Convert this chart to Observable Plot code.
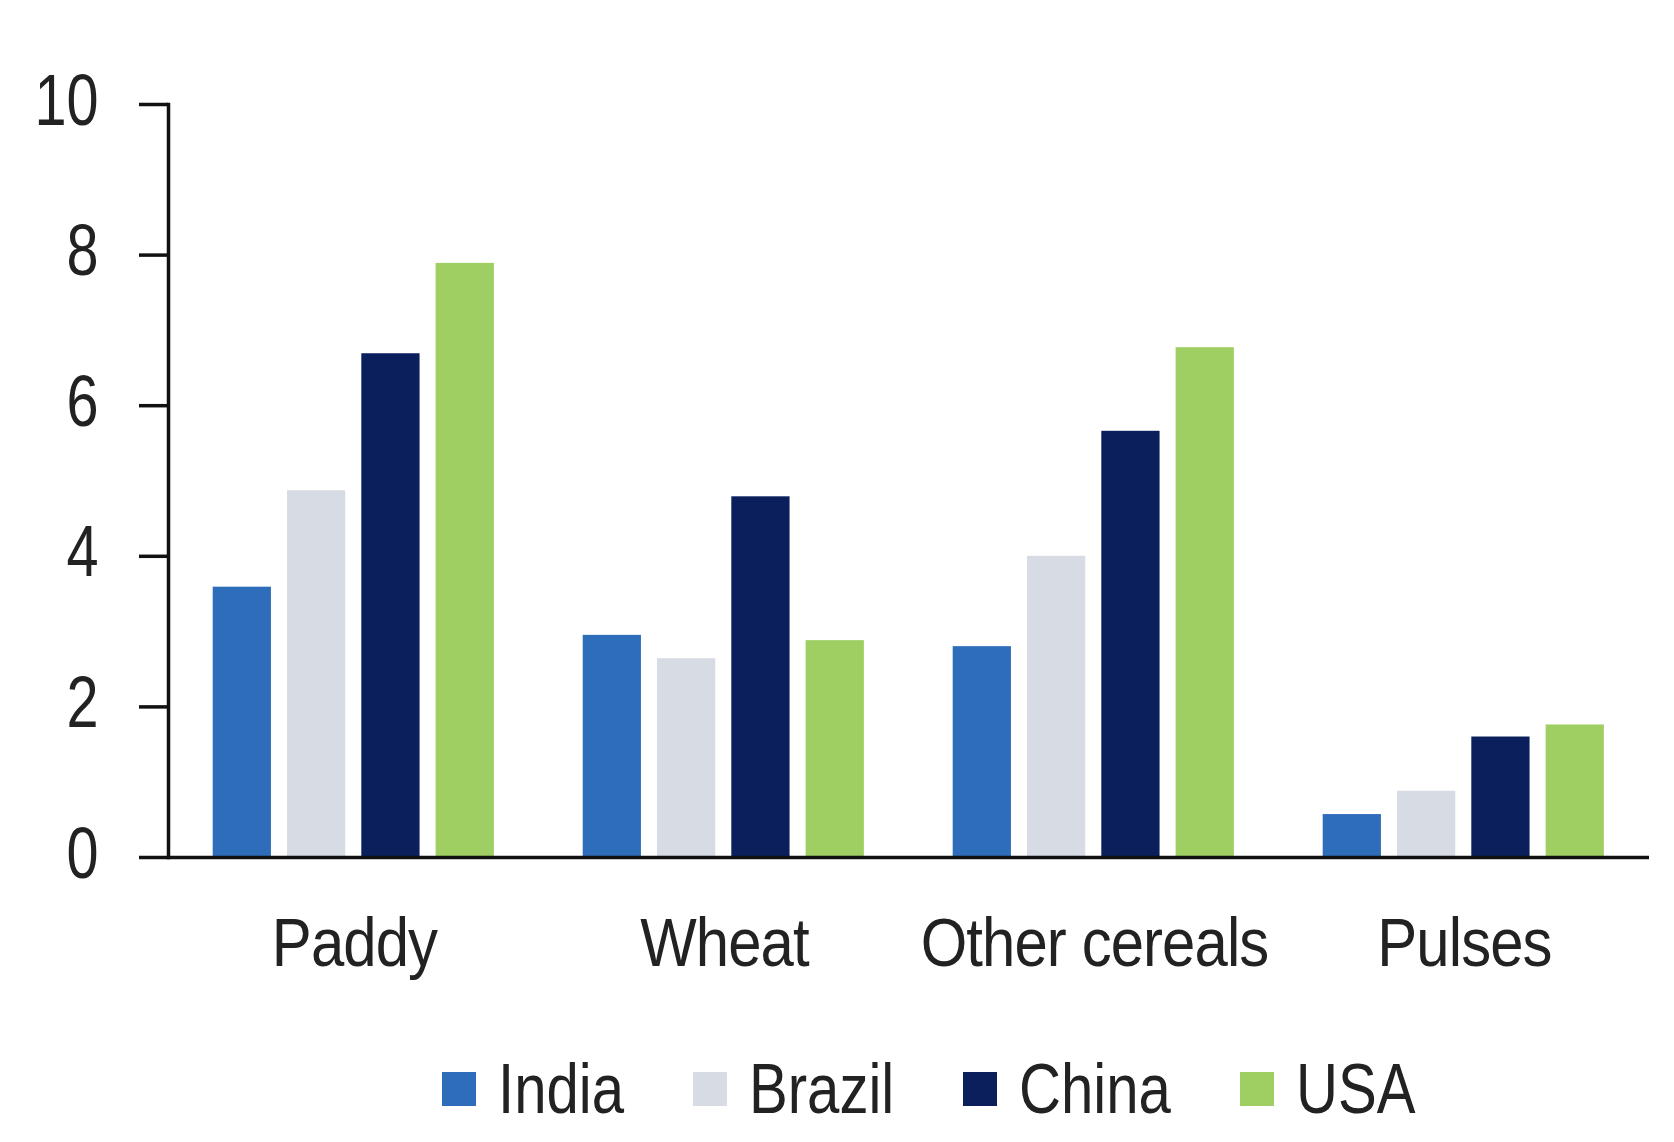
<!DOCTYPE html>
<html><head><meta charset="utf-8">
<script src="https://cdn.jsdelivr.net/npm/d3@7"></script>
<script src="https://cdn.jsdelivr.net/npm/@observablehq/plot@0.6"></script>
<style>
body{margin:0;background:#fff;font-family:"Liberation Sans",Arial,sans-serif;}
#legend{display:flex;justify-content:center;align-items:center;height:132px;padding-left:183px;padding-top:26px;box-sizing:border-box;width:1674px;font-size:70px;color:#222;}
.item{display:flex;align-items:center;margin-right:69px;}
.sw{width:34px;height:34px;margin-right:22px;flex:none;}
.tx{display:inline-block;transform-origin:0 50%;white-space:nowrap;}
</style></head><body>
<div id="chart"></div><div id="legend"></div>
<script>
const crops = ["Paddy", "Wheat", "Other cereals", "Pulses"];
const countries = ["India", "Brazil", "China", "USA"];
const colors = ["#2E6DBA", "#D6DBE4", "#0A1F5C", "#9FCF62"];
const india = [3.59, 2.95, 2.80, 0.57];
const brazil = [4.87, 2.64, 4.00, 0.88];
const china = [6.69, 4.79, 5.66, 1.60];
const usa = [7.89, 2.88, 6.77, 1.76];
const yTicks = [0, 2, 4, 6, 8, 10];

const series = [india, brazil, china, usa];
const rows = [];
countries.forEach((c, i) => crops.forEach((k, j) => rows.push({country: c, crop: k, value: series[i][j]})));

const W = 1674, H = 1010, ML = 168, MR = 25, MT = 104, MB = 153;
const step = (W - ML - MR) / crops.length;
const groupPad = 0.118, barStep = 0.2007, barW = 0.158;

const bars = countries.map((c, i) => {
  const left = step * (groupPad + i * barStep);
  const right = step - left - step * barW;
  return Plot.barY(rows.filter(d => d.country === c), {x: "crop", y: "value", fill: colors[i], insetLeft: left, insetRight: right});
});

const chart = Plot.plot({
  width: W, height: H,
  marginLeft: ML, marginRight: MR, marginTop: MT, marginBottom: MB,
  style: {fontFamily: '"Liberation Sans",Arial,sans-serif', color: "#111", background: "#fff"},
  x: {type: "band", domain: crops, padding: 0, axis: null},
  y: {domain: [0, 10], axis: null},
  marks: [
    ...bars,
    Plot.axisX({tickSize: 0, tickPadding: 60, fontSize: 68, fill: "#222", label: null}),
    Plot.axisY({ticks: yTicks, tickSize: 29, tickPadding: 41, fontSize: 72, fill: "#222", stroke: "#111", strokeWidth: 3.5, label: null}),
    Plot.frame({anchor: "left", stroke: "#111", strokeWidth: 3.5}),
    Plot.ruleY([0], {stroke: "#111", strokeWidth: 3.5})
  ]
});
document.getElementById("chart").appendChild(chart);

function squeeze(sel, sx, dy, spacing) {
  chart.querySelectorAll(sel).forEach(t => {
    const tr = t.getAttribute("transform") || "";
    const x = parseFloat(t.getAttribute("x")) || 0;
    t.removeAttribute("x");
    t.setAttribute("transform", `${tr} translate(${x},${dy}) scale(${sx},1)`);
    if (spacing) t.style.letterSpacing = spacing;
  });
}
squeeze('g[aria-label="y-axis tick label"] text', 0.8, -3);
squeeze('g[aria-label="x-axis tick label"] text', 0.88, 0, "-1px");

const lg = document.getElementById("legend");
countries.forEach((c, i) => {
  const it = document.createElement("div"); it.className = "item";
  const sw = document.createElement("div"); sw.className = "sw"; sw.style.background = colors[i];
  const tx = document.createElement("span"); tx.className = "tx"; tx.textContent = c;
  it.appendChild(sw); it.appendChild(tx); lg.appendChild(it);
});
const LS = 0.83;
lg.querySelectorAll(".tx").forEach((tx, i, all) => {
  const w = tx.getBoundingClientRect().width;
  tx.style.transform = `scaleX(${LS})`;
  tx.style.marginRight = (-(1 - LS) * w) + "px";
  if (i === all.length - 1) tx.parentNode.style.marginRight = "0px";
});
</script>
</body></html>
